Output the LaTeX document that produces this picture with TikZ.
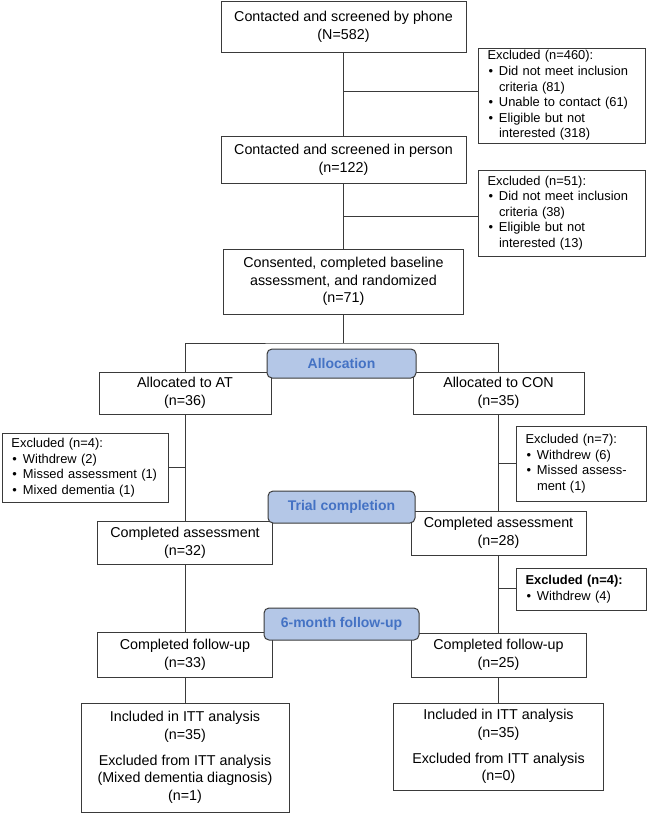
\documentclass[tikz,border=0pt]{standalone}
\usepackage{fontspec}
\setmainfont{Liberation Sans}
\usepackage{tikz}
\usetikzlibrary{positioning, calc}
\definecolor{flowLine}{HTML}{3A3A3A}
\definecolor{stageFill}{HTML}{B4C7E7}
\definecolor{stageText}{HTML}{4472C4}
\newcommand{\exbul}{\makebox[11.5pt][l]{\hspace{1pt}\textbullet}}
\newcommand{\exind}{\makebox[11.5pt]{}}

\begin{document}
\begin{tikzpicture}[
  x=1pt, y=-1pt,
  font=\fontsize{14.3}{17.7}\selectfont,
  box/.style={draw=flowLine, line width=1pt, fill=white, align=center, inner sep=2pt},
  excl/.style={draw=flowLine, line width=1pt, fill=white, align=left, inner xsep=9.5pt, inner ysep=2pt,
               font=\fontsize{12.9}{15.6}\selectfont},
  stage/.style={draw=flowLine, line width=1pt, rounded corners=5pt, fill=stageFill, text=stageText,
                font=\bfseries\fontsize{14}{16}\selectfont},
  link/.style={draw=flowLine, line width=1pt}
]
\useasboundingbox (0,0) rectangle (648,814);
% screening
\node[box, minimum width=245pt, minimum height=51pt] (phone) at (343.5,26.5) {Contacted and screened by phone\\(N=582)};
\node[excl, text width=148pt, minimum height=95pt] (phonex) at (561.5,95.5) {Excluded (n=460):\\
  \exbul Did not meet inclusion\\ \exind criteria (81)\\
  \exbul Unable to contact (61)\\
  \exbul Eligible but not\\ \exind interested (318)};
\node[box, minimum width=245pt, minimum height=47pt] (person) at (343.5,159.5) {Contacted and screened in person\\(n=122)};
\node[excl, text width=148pt, minimum height=86pt] (personx) at (561.5,213) {Excluded (n=51):\\
  \exbul Did not meet inclusion\\ \exind criteria (38)\\
  \exbul Eligible but not\\ \exind interested (13)};
\node[box, minimum width=240pt, minimum height=65pt] (consent) at (343.5,281.5) {Consented, completed baseline\\assessment, and randomized\\(n=71)};
% allocation
\node[box, minimum width=172pt, minimum height=42pt] (at) at (185,393) {Allocated to AT\\(n=36)};
\node[box, minimum width=171pt, minimum height=42pt] (con) at (498.5,393) {Allocated to CON\\(n=35)};
\node[excl, text width=147pt, minimum height=69pt] (atx) at (85,467.5) {Excluded (n=4):\\
  \exbul Withdrew (2)\\
  \exbul Missed assessment (1)\\
  \exbul Mixed dementia (1)};
\node[excl, text width=111pt, minimum height=75pt] (conx) at (581,463.5) {Excluded (n=7):\\
  \exbul Withdrew (6)\\
  \exbul Missed assess-\\ \exind ment (1)};
% trial completion
\node[box, minimum width=175pt, minimum height=43pt] (atdone) at (185,542.5) {Completed assessment\\(n=32)};
\node[box, minimum width=175pt, minimum height=44pt] (condone) at (498.5,533) {Completed assessment\\(n=28)};
\node[excl, text width=111pt, minimum height=42pt] (condonex) at (581,589) {\textbf{Excluded (n=4):}\\
  \exbul Withdrew (4)};
% follow-up
\node[box, minimum width=175pt, minimum height=45pt] (atfu) at (185,654.5) {Completed follow-up\\(n=33)};
\node[box, minimum width=175pt, minimum height=44pt] (confu) at (498.5,655) {Completed follow-up\\(n=25)};
\node[box, minimum width=208pt, minimum height=109pt] (atitt) at (185,757.5) {Included in ITT analysis\\(n=35)\\[8pt]
  Excluded from ITT analysis\\ (Mixed dementia diagnosis)\\(n=1)};
\node[box, minimum width=210pt, minimum height=87pt] (conitt) at (498.5,746.5) {Included in ITT analysis\\(n=35)\\[8pt]
  Excluded from ITT analysis\\(n=0)};

% connectors
\coordinate (j1) at (343.5,91);
\coordinate (j2) at (343.5,216);
\coordinate (split) at (343.5,343);
\coordinate (j3) at (185,467);
\coordinate (j4) at (498.5,463);
\coordinate (j5) at (498.5,588);
\draw[link] (phone) -- (person);
\draw[link] (j1) -- (j1 -| phonex.west);
\draw[link] (person) -- (consent);
\draw[link] (j2) -- (j2 -| personx.west);
\draw[link] (consent) -- (split);
\draw[link] (at.north) |- (split) -| (con.north);
\draw[link] (at) -- (atdone);
\draw[link] (j3) -- (j3 -| atx.east);
\draw[link] (con) -- (condone);
\draw[link] (j4) -- (j4 -| conx.west);
\draw[link] (atdone) -- (atfu);
\draw[link] (condone) -- (confu);
\draw[link] (j5) -- (j5 -| condonex.west);
\draw[link] (atfu) -- (atitt);
\draw[link] (confu) -- (conitt);

% stage labels
\node[stage, minimum width=149pt, minimum height=29pt] (alloc) at (341.5,363.5) {Allocation};
\node[stage, minimum width=147pt, minimum height=32pt] (trial) at (341.5,507) {Trial completion};
\node[stage, minimum width=155pt, minimum height=32pt] (follow) at (341.5,624) {6-month follow-up};
\end{tikzpicture}
\end{document}
